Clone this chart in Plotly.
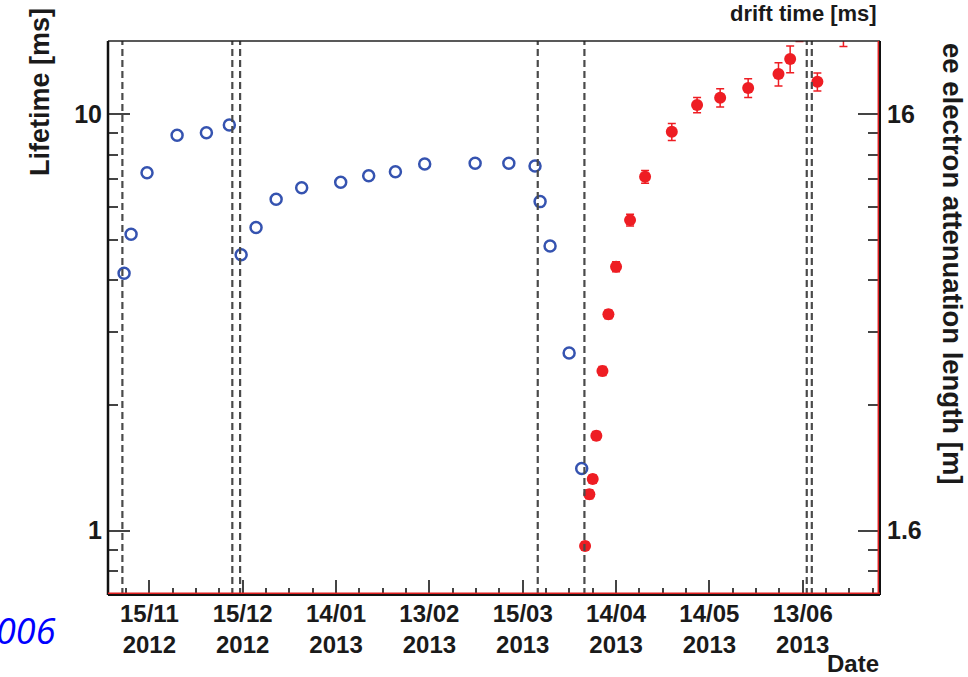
import plotly.graph_objects as go

# ---------------- data ----------------
blue_dates = [
    "2012-11-06 21:00", "2012-11-09 03:00", "2012-11-14 06:00", "2012-11-23 22:00",
    "2012-12-03 08:00", "2012-12-10 17:00", "2012-12-14 12:00", "2012-12-19 07:00",
    "2012-12-25 18:00", "2013-01-02 23:00", "2013-01-15 12:00", "2013-01-24 12:00",
    "2013-02-02 02:00", "2013-02-11 12:00", "2013-02-27 17:00", "2013-03-10 13:00",
    "2013-03-18 23:00", "2013-03-20 14:00", "2013-03-23 19:00", "2013-03-29 22:00",
    "2013-04-02 23:00",
]
blue_lifetime = [
    4.15, 5.15, 7.24, 8.91, 9.03, 9.43, 4.60, 5.35, 6.25, 6.66, 6.87,
    7.12, 7.28, 7.60, 7.63, 7.63, 7.51, 6.17, 4.83, 2.67, 1.41,
]

red_dates = [
    "2013-04-04 01:00", "2013-04-05 10:00", "2013-04-06 12:00", "2013-04-07 16:00",
    "2013-04-09 15:00", "2013-04-11 13:00", "2013-04-14 00:00", "2013-04-18 12:00",
    "2013-04-23 08:00", "2013-05-01 22:00", "2013-05-10 01:00", "2013-05-17 11:00",
    "2013-05-26 11:00", "2013-06-05 05:00", "2013-06-08 23:00", "2013-06-11 23:00",
    "2013-06-17 17:00", "2013-06-26 02:00",
]
red_lifetime = [
    0.919, 1.224, 1.331, 1.691, 2.418, 3.31, 4.305, 5.57, 7.08, 9.08,
    10.53, 10.96, 11.57, 12.49, 13.58, 16.4, 11.97, 15.6,
]
red_err = [
    0.02, 0.03, 0.03, 0.04, 0.06, 0.08, 0.12, 0.18, 0.25, 0.43,
    0.45, 0.55, 0.6, 0.8, 1.0, 1.45, 0.6, 1.05,
]

event_dates = [
    "2012-11-06 08:00", "2012-12-11 16:00", "2012-12-14 04:00",
    "2013-03-19 20:00", "2013-04-03 20:00", "2013-06-14 07:00", "2013-06-15 22:00",
]

x_tick_dates = ["2012-11-15", "2012-12-15", "2013-01-14", "2013-02-13",
                "2013-03-15", "2013-04-14", "2013-05-14", "2013-06-13"]
x_tick_text = ["15/11<br>2012", "15/12<br>2012", "14/01<br>2013", "13/02<br>2013",
               "15/03<br>2013", "14/04<br>2013", "14/05<br>2013", "13/06<br>2013"]
x_range = ["2012-11-01 17:00", "2013-07-07 20:00"]

y_major = [1, 10]
y_major_text = ["1", "10"]
y_minor = [0.8, 0.9, 2, 3, 4, 5, 6, 7, 8, 9]
y_range_log = [-0.1544, 1.1760]

drift_velocity = 1.6  # m/ms : attenuation length = lifetime * 1.6
y2_major = [v * drift_velocity for v in y_major]
y2_major_text = ["1.6", "16"]
y2_minor = [v * drift_velocity for v in y_minor]

# ---------------- layout helpers ----------------
W, H = 968, 677
L, R, T, B = 108, 880, 41, 595
PW, PH = R - L, B - T


def px_x(p):
    return (p - L) / PW


def px_y(p):
    return (B - p) / PH


BLUE = "#3553b0"
RED = "#ee1d23"
TXT = "#1a1a1a"
TICK = "#444444"
FONT = "Liberation Sans"

fig = go.Figure()

fig.add_trace(go.Scatter(
    x=blue_dates, y=blue_lifetime, mode="markers",
    marker=dict(symbol="circle-open", size=11, color=BLUE, line=dict(width=2.5, color=BLUE)),
    showlegend=False, hoverinfo="x+y",
))
fig.add_trace(go.Scatter(
    x=red_dates, y=red_lifetime, mode="markers",
    marker=dict(symbol="circle", size=12, color=RED),
    error_y=dict(type="data", array=red_err, color=RED, thickness=1.5, width=4),
    showlegend=False, hoverinfo="x+y",
))
# invisible anchor trace for the right-hand axis
fig.add_trace(go.Scatter(
    x=[x_tick_dates[0]], y=[y2_major[0]], yaxis="y2", mode="markers",
    marker=dict(opacity=0), showlegend=False, hoverinfo="skip",
))

shapes = []
for d in event_dates:
    shapes.append(dict(type="line", xref="x", yref="paper", x0=d, x1=d, y0=0, y1=1,
                       line=dict(color="#4a4a4a", width=2.2, dash="7px,4px"), layer="above"))

# frame
shapes += [
    dict(type="line", xref="paper", yref="paper", x0=0, x1=1, y0=1, y1=1,
         line=dict(color="#222222", width=1.3)),
    dict(type="line", xref="paper", yref="paper", x0=0, x1=0, y0=0, y1=1,
         line=dict(color="#111111", width=2.5)),
    dict(type="line", xref="paper", yref="paper", x0=1, x1=1, y0=0, y1=1,
         line=dict(color="#111111", width=2)),
    dict(type="line", xref="paper", yref="paper", x0=1 - 1.7 / PW, x1=1 - 1.7 / PW, y0=0, y1=1,
         line=dict(color="#e02020", width=1.5)),
    dict(type="line", xref="paper", yref="paper", x0=0, x1=1, y0=0, y1=0,
         line=dict(color="#111111", width=2)),
    dict(type="line", xref="paper", yref="paper", x0=0, x1=1, y0=1.7 / PH, y1=1.7 / PH,
         line=dict(color="#e02020", width=1.5)),
]

annotations = [
    dict(text="Lifetime [ms]", xref="paper", yref="paper", x=px_x(40), y=px_y(92),
         textangle=-90, showarrow=False, xanchor="center", yanchor="middle",
         font=dict(family=FONT, size=27, color=TXT, weight="bold")),
    dict(text="ee electron attenuation length [m]", xref="paper", yref="paper",
         x=px_x(953), y=px_y(264), textangle=90, showarrow=False,
         xanchor="center", yanchor="middle",
         font=dict(family=FONT, size=27.5, color=TXT, weight="bold")),
    dict(text="drift time [ms]", xref="paper", yref="paper", x=px_x(879), y=px_y(14),
         showarrow=False, xanchor="right", yanchor="middle",
         font=dict(family=FONT, size=22, color=TXT, weight="bold")),
    dict(text="Date", xref="paper", yref="paper", x=px_x(881), y=px_y(663),
         showarrow=False, xanchor="right", yanchor="middle",
         font=dict(family=FONT, size=24, color=TXT, weight="bold")),
    dict(text="006", xref="paper", yref="paper", x=px_x(58), y=px_y(630),
         showarrow=False, xanchor="right", yanchor="middle",
         font=dict(family="Open Sans", size=36, color="#0000ff", style="italic")),
]

fig.update_layout(
    width=W, height=H,
    margin=dict(l=L, r=W - R, t=T, b=H - B, pad=0),
    paper_bgcolor="white", plot_bgcolor="white",
    showlegend=False,
    shapes=shapes,
    annotations=annotations,
    xaxis=dict(
        type="date", range=x_range, showgrid=False, zeroline=False, showline=False,
        tickmode="array", tickvals=x_tick_dates, ticktext=x_tick_text,
        ticks="inside", ticklen=15, tickwidth=1.5, tickcolor=TICK,
        minor=dict(ticks="inside", ticklen=7, tickwidth=1.5, tickcolor=TICK,
                   dtick=7.5 * 86400000, tick0="2012-11-15", showgrid=False),
        tickfont=dict(family=FONT, size=24, color=TXT, weight="bold"),
        ticklabelstandoff=2,
    ),
    yaxis=dict(
        type="log", range=y_range_log, showgrid=False, zeroline=False, showline=False,
        tickmode="array", tickvals=y_major, ticktext=y_major_text,
        ticks="inside", ticklen=22, tickwidth=1.5, tickcolor=TICK,
        minor=dict(ticks="inside", ticklen=10, tickwidth=1.5, tickcolor=TICK,
                   tickmode="array", tickvals=y_minor, showgrid=False),
        tickfont=dict(family=FONT, size=25, color=TXT, weight="bold"),
        ticklabelstandoff=5,
    ),
    yaxis2=dict(
        type="log", overlaying="y", side="right",
        range=[y_range_log[0] + 0.20412, y_range_log[1] + 0.20412],
        showgrid=False, zeroline=False, showline=False,
        tickmode="array", tickvals=y2_major, ticktext=y2_major_text,
        ticks="inside", ticklen=22, tickwidth=1.5, tickcolor=TICK,
        minor=dict(ticks="inside", ticklen=12, tickwidth=1.5, tickcolor=TICK,
                   tickmode="array", tickvals=y2_minor, showgrid=False),
        tickfont=dict(family=FONT, size=25, color=TXT, weight="bold"),
        ticklabelstandoff=6,
    ),
)

fig.write_html("out.html")
